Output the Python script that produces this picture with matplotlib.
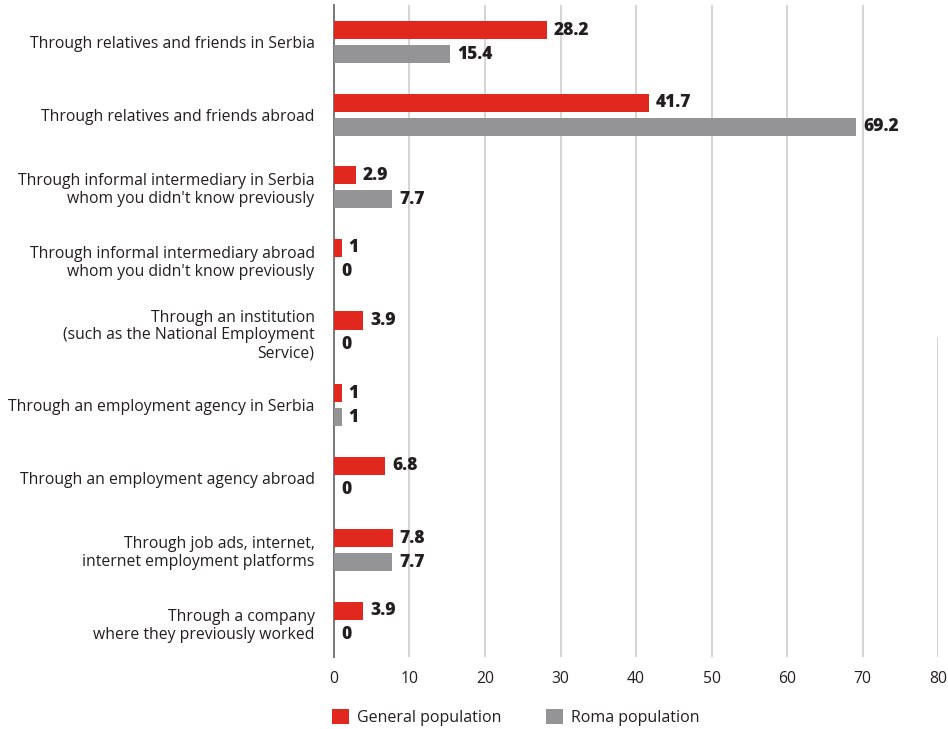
import matplotlib.pyplot as plt
import numpy as np

categories = [
    "Through relatives and friends in Serbia",
    "Through relatives and friends abroad",
    "Through informal intermediary in Serbia\nwhom you didn't know previously",
    "Through informal intermediary abroad\nwhom you didn't know previously",
    "Through an institution\n(such as the National Employment\nService)",
    "Through an employment agency in Serbia",
    "Through an employment agency abroad",
    "Through job ads, internet,\ninternet employment platforms",
    "Through a company\nwhere they previously worked",
]
general = [28.2, 41.7, 2.9, 1, 3.9, 1, 6.8, 7.8, 3.9]
roma = [15.4, 69.2, 7.7, 0, 0, 1, 0, 7.7, 0]
value_labels_general = ["28.2", "41.7", "2.9", "1", "3.9", "1", "6.8", "7.8", "3.9"]
value_labels_roma = ["15.4", "69.2", "7.7", "0", "0", "1", "0", "7.7", "0"]

RED = "#e0281e"
GREY = "#949497"

plt.rcParams['font.family'] = ['Open Sans', 'DejaVu Sans']

fig = plt.figure(figsize=(9.48, 7.29), dpi=100)
ax = fig.add_axes([0.3523, 0.0988, 0.6372, 0.8943])

y = np.arange(len(categories))
h = 0.25
off = 0.165
ax.barh(y - off, general, height=h, color=RED, label="General population", zorder=3)
ax.barh(y + off, roma, height=h, color=GREY, label="Roma population", zorder=3)

for yi, v, t in zip(y, general, value_labels_general):
    ax.annotate(t, (v, yi - off), xytext=(5, 0), textcoords="offset points",
                va="center", ha="left", fontsize=12.5, fontweight="heavy", color="#231f20")
for yi, v, t in zip(y, roma, value_labels_roma):
    ax.annotate(t, (v, yi + off), xytext=(5, 0), textcoords="offset points",
                va="center", ha="left", fontsize=12.5, fontweight="heavy", color="#231f20")

ax.set_xlim(0, 80)
ax.set_ylim(len(categories) - 1 + 0.47, -0.51)
ax.set_xticks(range(0, 81, 10))
ax.set_yticks(y)
ax.set_yticklabels(categories, fontsize=11.3, color="#231f20", ha="right",
                   linespacing=1.15)
ax.tick_params(axis="y", length=0, pad=14)
ax.tick_params(axis="x", length=0, pad=10, labelsize=11.3, labelcolor="#231f20")

for x in range(10, 80, 10):
    ax.axvline(x, color="#d4d4d4", lw=1.4, zorder=1)
ax.axvline(80, ymax=0.49, color="#d4d4d4", lw=1.4, zorder=1)

for s in ["top", "right", "bottom"]:
    ax.spines[s].set_visible(False)
ax.spines["left"].set_color("#777777")
ax.spines["left"].set_linewidth(1.4)

leg = fig.legend(loc="lower left", bbox_to_anchor=(0.335, -0.016), ncol=2, frameon=False,
                 fontsize=11.5, handlelength=1.05, handleheight=1.05, columnspacing=2.8,
                 handletextpad=0.5)
for t in leg.get_texts():
    t.set_color("#231f20")

fig.savefig("out.png", dpi=100)
